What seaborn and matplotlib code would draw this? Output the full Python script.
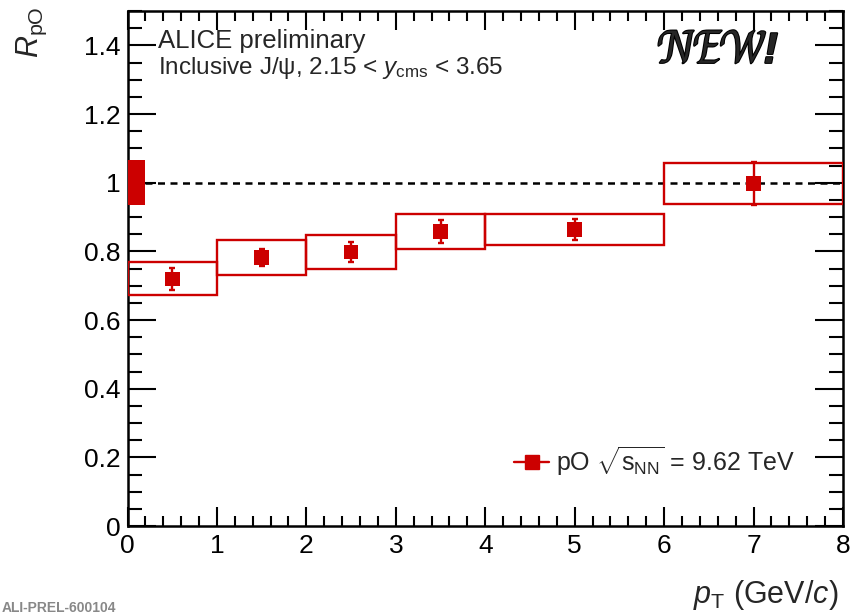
import numpy as np
import pandas as pd
import seaborn as sns
import matplotlib
matplotlib.use("Agg")
import matplotlib.pyplot as plt
from matplotlib.patches import Rectangle
from matplotlib.lines import Line2D
from matplotlib.ticker import MultipleLocator, FuncFormatter
import matplotlib.patheffects as pe

# J/psi nuclear modification factor in pO collisions
pt_low = [0, 1, 2, 3, 4, 6]
pt_high = [1, 2, 3, 4, 6, 8]
pt_center = [0.5, 1.5, 2.5, 3.5, 5.0, 7.0]
r_po = [0.720, 0.782, 0.798, 0.858, 0.864, 0.998]
stat_err = [0.032, 0.026, 0.028, 0.033, 0.030, 0.063]
syst_err = [0.048, 0.051, 0.049, 0.050, 0.046, 0.059]
global_err = 0.066

sns.set_theme(style="ticks")
plt.rcParams["font.family"] = ["Liberation Sans", "DejaVu Sans"]
plt.rcParams["mathtext.fontset"] = "custom"
plt.rcParams["mathtext.rm"] = "Liberation Sans"
plt.rcParams["mathtext.it"] = "Liberation Sans:italic"
plt.rcParams["mathtext.bf"] = "Liberation Sans:bold"

red = "#cc0000"
W, H = 852, 614
fig = plt.figure(figsize=(W / 100, H / 100), dpi=100)
ax = fig.add_axes([127.5 / W, 1 - 526 / H, (843 - 127.5) / W, (526 - 11) / H])

df = pd.DataFrame({"pt": pt_center, "R": r_po, "stat": stat_err, "syst": syst_err,
                   "lo": pt_low, "hi": pt_high})

# systematic uncertainty boxes
for _, row in df.iterrows():
    ax.add_patch(Rectangle((row.lo, row.R - row.syst), row.hi - row.lo, 2 * row.syst,
                           fill=False, edgecolor=red, lw=1.7, zorder=3))

# global normalisation uncertainty
ax.add_patch(Rectangle((0, 1 - global_err), 0.2, 2 * global_err,
                       facecolor=red, edgecolor="none", zorder=4))

# unity reference line
ax.plot([0.2, 8], [1, 1], color="black", lw=1.8, ls=(0, (2.8, 2.2)), zorder=2)

# statistical uncertainties and points
ax.errorbar(df.pt, df.R, yerr=df.stat, fmt="none", ecolor=red, elinewidth=1.7,
            capsize=2.5, capthick=1.7, zorder=5)
sns.scatterplot(data=df, x="pt", y="R", marker="s", s=110, color=red,
                edgecolor="none", linewidth=0, ax=ax, zorder=6, legend=False)

ax.set_xlim(0, 8)
ax.set_ylim(0, 1.5)
ax.set_xlabel("")
ax.set_ylabel("")
ax.xaxis.set_major_locator(MultipleLocator(1))
ax.xaxis.set_minor_locator(MultipleLocator(0.2))
ax.yaxis.set_major_locator(MultipleLocator(0.2))
ax.yaxis.set_minor_locator(MultipleLocator(0.05))
ax.yaxis.set_major_formatter(FuncFormatter(lambda v, p: f"{v:g}"))
ax.xaxis.set_major_formatter(FuncFormatter(lambda v, p: f"{v:g}"))
ax.tick_params(which="both", direction="in", top=True, right=True,
               labelsize=19, width=1.5, color="black", labelcolor="black")
ax.tick_params(axis="x", which="major", length=14, pad=6)
ax.tick_params(axis="x", which="minor", length=7)
ax.tick_params(axis="y", which="major", length=20, pad=5)
ax.tick_params(axis="y", which="minor", length=10)
for s in ax.spines.values():
    s.set_linewidth(1.8)
    s.set_color("black")
    s.set_visible(True)

# labels
fig.text(158 / W, 1 - 48 / H, "ALICE preliminary", fontsize=18.5,
         ha="left", va="baseline")
fig.text(158 / W, 1 - 74 / H, r"Inclusive J/ψ, 2.15 < $y_{\rm cms}$ < 3.65",
         fontsize=17.5, ha="left", va="baseline")

fig.text(720 / W, 1 - 52 / H, r"$\mathcal{NEW}$!", fontsize=31, ha="center", va="center",
         fontstyle="italic", fontweight="bold",
         path_effects=[pe.withStroke(linewidth=1.5, foreground="black")])

fig.text(32 / W, 1 - 6 / H, r"$R_{\rm pO}$", fontsize=22, rotation=90,
         ha="center", va="top")
fig.text(838 / W, 1 - 603 / H, r"$p_{\rm T}$ (GeV/$c$)", fontsize=22,
         ha="right", va="baseline")

fig.text(2 / W, 1 - 612 / H, "ALI-PREL-600104", fontsize=10, color="#888888",
         ha="left", va="baseline", fontweight="bold")

handle = Line2D([], [], color=red, lw=1.7, marker="s", markersize=10)
ax.legend([handle], [r"pO $\sqrt{\rm s_{NN}}$ = 9.62 TeV"], loc="center left",
          bbox_to_anchor=(514 / W, 1 - 461 / H), bbox_transform=fig.transFigure,
          frameon=False, fontsize=18, handlelength=1.4, handletextpad=0.3,
          borderpad=0, borderaxespad=0)

fig.savefig("out.png", dpi=100)
